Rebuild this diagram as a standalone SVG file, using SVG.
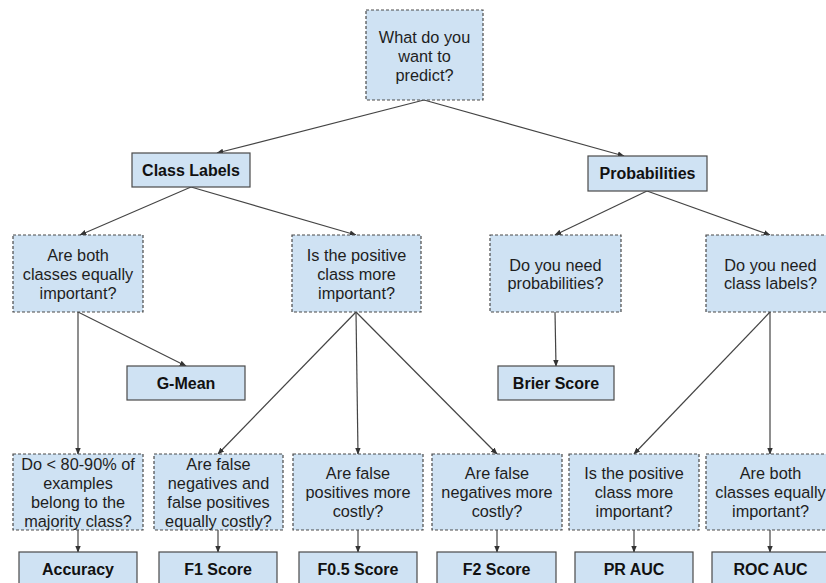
<svg xmlns="http://www.w3.org/2000/svg" width="826" height="583" viewBox="0 0 826 583">
  <defs>
    <marker id="arr" viewBox="0 0 10 10" refX="9" refY="5" markerWidth="7" markerHeight="7" markerUnits="userSpaceOnUse" orient="auto">
      <path d="M0,1 L10,5 L0,9 z" fill="#333"/>
    </marker>
    <style>
      .q { fill: #cfe2f3; stroke: #4a4a4a; stroke-width: 1.2; stroke-dasharray: 3 2; }
      .m { fill: #cfe2f3; stroke: #4a4a4a; stroke-width: 1.2; }
      .t { font-family: "Liberation Sans", Arial, sans-serif; font-size: 16.3px; fill: #1e1e1e; text-anchor: middle; }
      .b { font-family: "Liberation Sans", Arial, sans-serif; font-size: 16px; font-weight: bold; fill: #111; text-anchor: middle; }
      .c { fill: none; stroke: #444; stroke-width: 1.2; marker-end: url(#arr); }
    </style>
  </defs>
  <rect width="826" height="583" fill="#fff"/>

  <g id="connectors">
    <line class="c" x1="424" y1="100" x2="217" y2="153"/>
    <line class="c" x1="424" y1="100" x2="624" y2="156"/>
    <line class="c" x1="191" y1="187" x2="80" y2="235"/>
    <line class="c" x1="191" y1="187" x2="356" y2="235"/>
    <line class="c" x1="647" y1="191" x2="555" y2="235"/>
    <line class="c" x1="647" y1="191" x2="770" y2="235"/>
    <line class="c" x1="78" y1="312" x2="78" y2="454"/>
    <line class="c" x1="78" y1="312" x2="186" y2="366"/>
    <line class="c" x1="356" y1="312" x2="218" y2="454"/>
    <line class="c" x1="356" y1="312" x2="358" y2="454"/>
    <line class="c" x1="356" y1="312" x2="497" y2="454"/>
    <line class="c" x1="555" y1="312" x2="556" y2="366"/>
    <line class="c" x1="770" y1="312" x2="634" y2="454"/>
    <line class="c" x1="770" y1="312" x2="770" y2="454"/>
    <line class="c" x1="78" y1="530" x2="78" y2="552"/>
    <line class="c" x1="218" y1="530" x2="218" y2="552"/>
    <line class="c" x1="358" y1="530" x2="358" y2="552"/>
    <line class="c" x1="497" y1="530" x2="497" y2="552"/>
    <line class="c" x1="634" y1="530" x2="634" y2="552"/>
    <line class="c" x1="770" y1="530" x2="770" y2="552"/>
  </g>

  <g id="predict">
    <rect class="q" x="366" y="10" width="117" height="90"/>
    <text class="t" x="424.5" y="43">What do you</text>
    <text class="t" x="424.5" y="62">want to</text>
    <text class="t" x="424.5" y="81">predict?</text>
  </g>

  <g id="class-labels">
    <rect class="m" x="132" y="153" width="118" height="34"/>
    <text class="b" x="191" y="176">Class Labels</text>
  </g>

  <g id="probabilities">
    <rect class="m" x="588" y="156" width="119" height="35"/>
    <text class="b" x="647.5" y="179">Probabilities</text>
  </g>

  <g id="both-equal">
    <rect class="q" x="13" y="235" width="130" height="77"/>
    <text class="t" x="78" y="260.5">Are both</text>
    <text class="t" x="78" y="279.5">classes equally</text>
    <text class="t" x="78" y="298.5">important?</text>
  </g>

  <g id="positive-important">
    <rect class="q" x="292" y="235" width="129" height="77"/>
    <text class="t" x="356.5" y="260.5">Is the positive</text>
    <text class="t" x="356.5" y="279.5">class more</text>
    <text class="t" x="356.5" y="298.5">important?</text>
  </g>

  <g id="need-probabilities">
    <rect class="q" x="490" y="235" width="131" height="77"/>
    <text class="t" x="555.5" y="270.5">Do you need</text>
    <text class="t" x="555.5" y="289">probabilities?</text>
  </g>

  <g id="need-class-labels">
    <rect class="q" x="706" y="235" width="129" height="77"/>
    <text class="t" x="770.5" y="270.5">Do you need</text>
    <text class="t" x="770.5" y="289">class labels?</text>
  </g>

  <g id="g-mean">
    <rect class="m" x="127" y="366" width="118" height="34"/>
    <text class="b" x="186" y="389">G-Mean</text>
  </g>

  <g id="brier">
    <rect class="m" x="498" y="366" width="116" height="34"/>
    <text class="b" x="556" y="389">Brier Score</text>
  </g>

  <g id="majority">
    <rect class="q" x="13" y="454" width="130" height="76"/>
    <text class="t" x="78" y="469.5">Do &lt; 80-90% of</text>
    <text class="t" x="78" y="488.5">examples</text>
    <text class="t" x="78" y="507.5">belong to the</text>
    <text class="t" x="78" y="526.5">majority class?</text>
  </g>

  <g id="equally-costly">
    <rect class="q" x="154" y="454" width="129" height="76"/>
    <text class="t" x="218.5" y="469.5">Are false</text>
    <text class="t" x="218.5" y="488.5">negatives and</text>
    <text class="t" x="218.5" y="507.5">false positives</text>
    <text class="t" x="218.5" y="526.5">equally costly?</text>
  </g>

  <g id="fp-costly">
    <rect class="q" x="293" y="454" width="130" height="76"/>
    <text class="t" x="358" y="479">Are false</text>
    <text class="t" x="358" y="498">positives more</text>
    <text class="t" x="358" y="517">costly?</text>
  </g>

  <g id="fn-costly">
    <rect class="q" x="432" y="454" width="130" height="76"/>
    <text class="t" x="497" y="479">Are false</text>
    <text class="t" x="497" y="498">negatives more</text>
    <text class="t" x="497" y="517">costly?</text>
  </g>

  <g id="positive-important-2">
    <rect class="q" x="569" y="454" width="130" height="76"/>
    <text class="t" x="634" y="479">Is the positive</text>
    <text class="t" x="634" y="498">class more</text>
    <text class="t" x="634" y="517">important?</text>
  </g>

  <g id="both-equal-2">
    <rect class="q" x="706" y="454" width="129" height="76"/>
    <text class="t" x="770.5" y="479">Are both</text>
    <text class="t" x="770.5" y="498">classes equally</text>
    <text class="t" x="770.5" y="517">important?</text>
  </g>

  <g id="accuracy">
    <rect class="m" x="19" y="552" width="118" height="36"/>
    <text class="b" x="78" y="575">Accuracy</text>
  </g>

  <g id="f1">
    <rect class="m" x="159" y="552" width="118" height="36"/>
    <text class="b" x="218" y="575">F1 Score</text>
  </g>

  <g id="f05">
    <rect class="m" x="299" y="552" width="118" height="36"/>
    <text class="b" x="358" y="575">F0.5 Score</text>
  </g>

  <g id="f2">
    <rect class="m" x="437" y="552" width="119" height="36"/>
    <text class="b" x="496.5" y="575">F2 Score</text>
  </g>

  <g id="pr-auc">
    <rect class="m" x="575" y="552" width="118" height="36"/>
    <text class="b" x="634" y="575">PR AUC</text>
  </g>

  <g id="roc-auc">
    <rect class="m" x="712" y="552" width="117" height="36"/>
    <text class="b" x="770.5" y="575">ROC AUC</text>
  </g>
</svg>
